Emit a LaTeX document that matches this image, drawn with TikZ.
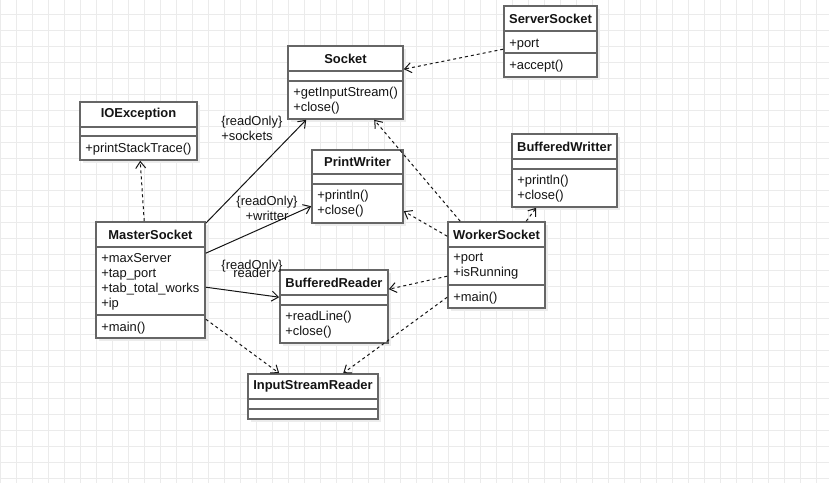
\documentclass[tikz,border=0pt]{standalone}
\usepackage{fontspec}
\setmainfont{Liberation Sans}
\usepackage{xcolor}
\usepackage{tikz}
\usetikzlibrary{positioning, arrows.meta, fit, calc, shadows}
\definecolor{ink}{RGB}{20,20,20}
\definecolor{frame}{RGB}{102,102,102}
\definecolor{gridline}{RGB}{235,235,235}
\definecolor{shade}{RGB}{236,236,236}
\tikzset{
  classbox/.style ={rectangle, draw=frame, line width=1.2pt, fill=white, inner sep=0pt,
                    general shadow={fill=shade, shadow xshift=2.5pt, shadow yshift=-2.5pt}},
  divider/.style  ={draw=frame, line width=1.2pt},
  classname/.style={font=\fontsize{9.7}{11}\selectfont\bfseries, color=ink},
  members/.style  ={font=\fontsize{9.7}{11.25}\selectfont, color=ink, align=left,
                    anchor=north west, inner sep=0pt, execute at begin node=\strut},
  assoc/.style    ={-{Straight Barb[length=5pt, width=7.5pt]}, line width=0.75pt, color=ink},
  dep/.style      ={assoc, dash pattern=on 2.25pt off 2.25pt},
  rolelabel/.style={font=\fontsize{9.7}{11.25}\selectfont, color=ink, inner sep=0pt},
}

\begin{document}
\begin{tikzpicture}[x=0.75pt, y=-0.75pt]
\useasboundingbox (0,0) rectangle (829,483);
% background grid
\foreach \gx in {0,16,...,816} \draw[gridline, line width=0.75pt] (\gx,0) -- (\gx,483);
\foreach \gy in {14,30,...,478} \draw[gridline, line width=0.75pt] (0,\gy) -- (829,\gy);

% classes: name/left/top/right/sep1/sep2/bottom/title/attributes/methods
\foreach \nm/\lx/\ty/\rx/\ya/\yb/\by/\cname/\attrs/\meths in {
    socket/288/46/403/71/81/119/Socket/{}/{+getInputStream()\\+close()},
    ss/504/6/597/31/53/77/ServerSocket/{+port}/{+accept()},
    ioe/80/102/197/127/136/160/IOException/{}/{+printStackTrace()},
    pw/312/150/403/174/184/223/PrintWriter/{}/{+println()\\+close()},
    bw/512/134/617/159/169/207/BufferedWritter/{}/{+println()\\+close()},
    ms/96/222/205/247/315/338/MasterSocket/{+maxServer\\+tap\_port\\+tab\_total\_works\\+ip}/{+main()},
    br/280/270/388/295/305/343/BufferedReader/{}/{+readLine()\\+close()},
    isr/248/374/378/399/409/419/InputStreamReader/{}/{},
    ws/448/222/545/247/285/308/WorkerSocket/{+port\\+isRunning}/{+main()}} {
  \node[classbox, fit={(\lx,\ty) (\rx,\by)}] (\nm) {};
  \draw[divider] (\lx,\ya) -- (\rx,\ya) (\lx,\yb) -- (\rx,\yb);
  \node[classname] (\nm-t) at ({(\lx+\rx)/2}, {(\ty+\ya)/2}) {\cname};
  \node[members] (\nm-a) at (\lx+5,\ya+6) {\attrs};
  \node[members] (\nm-m) at (\lx+5,\yb+6) {\meths};
}

% associations
\draw[assoc] ($(ms.north east)+(0,2)$) -- ($(socket.south west)+(19,0)$);
\draw[assoc] ($(ms.north east)+(0,32)$) -- ($(pw.north west)+(0,57)$);
\draw[assoc] ($(ms.north east)+(0,66)$) -- ($(br.north west)+(0,28)$);
\node[rolelabel, align=left, anchor=base west] (lsock) at (221,140) {\{readOnly\}\\+sockets};
\node[rolelabel, align=center, anchor=base] (lwrit) at (267,220) {\{readOnly\}\\+writter};
\node[rolelabel, align=center, anchor=base] (lread) at (252,277) {\{readOnly\}\\[-5.5pt]reader};

% dependencies
\draw[dep] ($(ss.north west)+(0,44)$) -- ($(socket.north east)+(0,24)$);
\draw[dep] ($(ms.north west)+(49,0)$) -- ($(ioe.south west)+(61,0)$);
\draw[dep] ($(ms.north east)+(0,98)$) -- ($(isr.north west)+(32,0)$);
\draw[dep] ($(ws.north west)+(13,0)$) -- ($(socket.south west)+(87,0)$);
\draw[dep] ($(ws.north west)+(79,0)$) -- ($(bw.south west)+(25,0)$);
\draw[dep] ($(ws.north west)+(0,15)$) -- ($(pw.north east)+(0,62)$);
\draw[dep] ($(ws.north west)+(0,55)$) -- ($(br.north east)+(0,20)$);
\draw[dep] ($(ws.north west)+(0,76)$) -- ($(isr.north west)+(96,0)$);
\end{tikzpicture}
\end{document}
